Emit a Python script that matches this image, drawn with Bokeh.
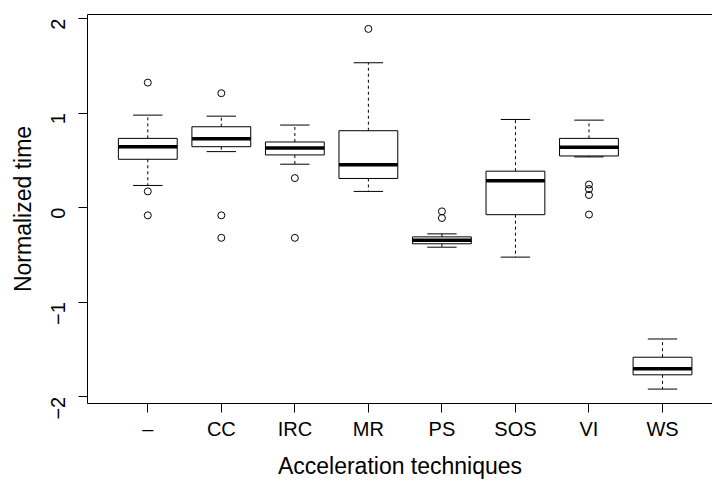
import math
from bokeh.plotting import figure
from bokeh.models import Range1d, FixedTicker, LinearAxis, ColumnDataSource
from bokeh.embed import file_html
from bokeh.resources import INLINE

techniques = ["–", "CC", "IRC", "MR", "PS", "SOS", "VI", "WS"]
upper_whisker = [0.979, 0.968, 0.874, 1.533, -0.277, 0.933, 0.926, -1.389]
q3 = [0.733, 0.856, 0.695, 0.814, -0.309, 0.386, 0.733, -1.582]
median = [0.645, 0.730, 0.632, 0.453, -0.344, 0.284, 0.639, -1.705]
q1 = [0.512, 0.645, 0.558, 0.309, -0.382, -0.074, 0.547, -1.768]
lower_whisker = [0.235, 0.593, 0.460, 0.172, -0.418, -0.523, 0.537, -1.919]
outlier_tech = ["–", "–", "–", "CC", "CC", "CC", "IRC", "IRC", "MR",
                "PS", "PS", "VI", "VI", "VI", "VI"]
outlier_vals = [1.323, 0.172, -0.081, 1.211, -0.081, -0.319, 0.313, -0.319, 1.891,
                -0.039, -0.109, 0.245, 0.197, 0.134, -0.073]
y_ticks = [-2, -1, 0, 1, 2]
x_title = "Acceleration techniques"
y_title = "Normalized time"

n = len(techniques)
xs = list(range(1, n + 1))
pos = {t: i + 1 for i, t in enumerate(techniques)}
ox = [pos[t] for t in outlier_tech]

all_vals = upper_whisker + lower_whisker + outlier_vals
lo, hi = min(all_vals), max(all_vals)
pad = 0.04 * (hi - lo)

FONT = "Liberation Sans"

p = figure(width=712, height=481,
           x_range=Range1d(0.18, 8.68), y_range=Range1d(lo - pad, hi + pad),
           output_backend="svg", toolbar_location=None,
           min_border_left=87, min_border_right=0, min_border_top=14, min_border_bottom=77)
p.outline_line_color = None
p.xgrid.grid_line_color = None
p.ygrid.grid_line_color = None
p.background_fill_color = "white"
p.border_fill_color = "white"

src = ColumnDataSource(dict(
    x=xs, up=upper_whisker, q3=q3, med=median, q1=q1, lw=lower_whisker,
    bl=[x - 0.4 for x in xs], br=[x + 0.4 for x in xs],
    cl=[x - 0.2 for x in xs], cr=[x + 0.2 for x in xs],
))

# whiskers
p.segment(x0="x", x1="x", y0="q3", y1="up", source=src, line_color="black",
          line_width=1, line_dash="3 3")
p.segment(x0="x", x1="x", y0="q1", y1="lw", source=src, line_color="black",
          line_width=1, line_dash="3 3")
# caps
p.segment(x0="cl", x1="cr", y0="up", y1="up", source=src, line_color="black", line_width=1)
p.segment(x0="cl", x1="cr", y0="lw", y1="lw", source=src, line_color="black", line_width=1)
# boxes
p.vbar(x="x", width=0.8, top="q3", bottom="q1", source=src,
       fill_color="white", line_color="black", line_width=1)
# medians
p.segment(x0="bl", x1="br", y0="med", y1="med", source=src, line_color="black", line_width=3.5)
# outliers
p.scatter(x=ox, y=outlier_vals, marker="circle", size=7, fill_color=None,
          line_color="black", line_width=1)

# axes
xa = p.xaxis[0]
xa.ticker = FixedTicker(ticks=xs)
xa.major_label_overrides = {x: t for x, t in zip(xs, techniques)}
xa.axis_label = x_title
ya = p.yaxis[0]
ya.ticker = FixedTicker(ticks=y_ticks)
ya.major_label_overrides = {v: ("\u2212" + str(-v) if v < 0 else str(v)) for v in y_ticks}
ya.axis_label = y_title
ya.major_label_orientation = math.pi / 2

for ax in (xa, ya):
    ax.minor_tick_line_color = None
    ax.major_tick_in = 0
    ax.major_tick_out = 9
    ax.major_tick_line_color = "black"
    ax.axis_line_color = "black"
    ax.major_label_text_font = FONT
    ax.major_label_text_font_size = "20px"
    ax.major_label_text_color = "black"
    ax.axis_label_text_font = FONT
    ax.axis_label_text_font_size = "23px"
    ax.axis_label_text_font_style = "normal"
    ax.axis_label_text_color = "black"

xa.major_label_standoff = 5
xa.axis_label_standoff = 10
ya.major_label_standoff = 20
ya.axis_label_standoff = 6

top = LinearAxis(ticker=FixedTicker(ticks=[]), major_label_text_font_size="0px",
                 major_tick_line_color=None, minor_tick_line_color=None,
                 major_label_standoff=0, major_tick_out=0, major_tick_in=0,
                 axis_line_color="black")
p.add_layout(top, "above")

with open("out.html", "w") as f:
    f.write(file_html(p, INLINE))
